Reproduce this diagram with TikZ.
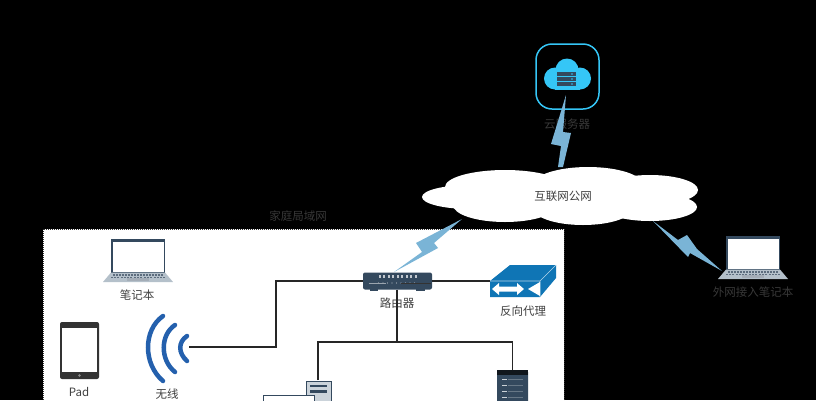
\documentclass[tikz,border=0pt]{standalone}
\usepackage{fontspec}
\setmainfont{Noto Sans CJK SC}
\usetikzlibrary{
	arrows.meta,
	calc,
	positioning,
}
\definecolor{boltblue}{HTML}{7AB4D6}
\definecolor{cloudcyan}{HTML}{35C6F6}
\definecolor{slatedark}{HTML}{34495E}
\definecolor{wifiblue}{HTML}{2460AD}
\definecolor{proxyblue}{HTML}{0F75B5}
\definecolor{basegrey}{HTML}{B4C0CA}
\tikzset{
	wire/.style={line width=1.7pt, black!85},
	label/.style={font=\fontsize{11.5}{13}\selectfont, text=black!75, inner sep=0pt},
	darklabel/.style={font=\fontsize{11.5}{13}\selectfont, text=black!78!white, inner sep=0pt},
	bolt/.style={fill=boltblue},
	arcline/.style={draw=wifiblue, line width=4.5pt, line cap=round},
	laptop/.pic={
		% origin is the middle of the screen bottom
		\fill[slatedark] (-27,-33.5) rectangle (27,0);
		\fill[white] (-25.5,-31) rectangle (25.5,-1);
		\fill[basegrey] (-27,0) -- (27,0) -- (35,9.5) -- (-35,9.5) -- cycle;
		\foreach \i in {-24,-21,...,24} {
			\fill[slatedark!80] (\i-1,1) rectangle (\i+1,3);
			\fill[slatedark!80] (\i*1.1-1,4) rectangle (\i*1.1+1,5.5);
		}
		\fill[slatedark!45] (-11,5.5) rectangle (11,8);
	},
}
\begin{document}
\begin{tikzpicture}[x=1pt, y=-1pt]
	\fill[black] (0,0) rectangle (816,400);
	\useasboundingbox (0,0) rectangle (816,400);
	\clip (0,0) rectangle (816,400);

	% local network box
	\node[darklabel] (lanlabel) at (298,216) {家庭局域网};
	\draw[fill=white, draw=black!80, densely dotted, line width=1pt] (43,229) rectangle (564,420);

	% cloud server
	\draw[cloudcyan, line width=1.5pt, rounded corners=16pt] (536,44) rectangle (599,109);
	\fill[cloudcyan] (567,70) circle (11.5);
	\fill[cloudcyan] (555,78.5) circle (11);
	\fill[cloudcyan] (580,78.5) circle (11);
	\fill[cloudcyan] (555,75) rectangle (580,89.5);
	\foreach \y in {74,79,84} {
		\fill[slatedark] (557,\y-2) rectangle (576,\y+2);
		\fill[cloudcyan] (572,\y) circle (0.9);
	}
	\node[darklabel] (serverlabel) at (567,124) {云服务器};

	% internet cloud
	\fill[white] (470,197) ellipse (48 and 12);
	\fill[white] (505,187) ellipse (60 and 17);
	\fill[white] (588,185) ellipse (55 and 18);
	\fill[white] (650,190) ellipse (48 and 15);
	\fill[white] (650,207) ellipse (47 and 14);
	\fill[white] (583,208) ellipse (50 and 17);
	\fill[white] (505,205) ellipse (52 and 17);
	\node[label] (inet) at (563,196) {互联网公网};

	% lightning
	\fill[bolt] (566,95) -- (551,144) -- (561,146) -- (558,167) -- (563,167) -- (571,133) -- (563,132) -- cycle;
	\fill[bolt] (462,219) -- (416,243) -- (422,252) -- (394,272) -- (438,248) -- (434,243) -- cycle;
	\fill[bolt] (653,221) -- (678,240) -- (687,235) -- (697,249) -- (722,271) -- (690,253) -- (688,257) -- cycle;

	% laptops
	\pic at (138,272.5) {laptop};
	\node[label] (notebook) at (137,295) {笔记本};
	\pic at (753,269.5) {laptop};
	\node[darklabel] (remote) at (753,292) {外网接入笔记本};

	% pad
	\fill[black!80] (60,322) [rounded corners=2pt] rectangle (99,379);
	\fill[white] (62,328) rectangle (97,372);
	\fill[black!45] (79.5,375.5) circle (1.3);
	\node[label] (pad) at (79,392) {Pad};

	% wireless
	\draw[arcline] (163,316) .. controls (143,330) and (143,364) .. (163,381);
	\draw[arcline] (175,325) .. controls (160,335) and (160,360) .. (175,372);
	\draw[arcline] (187,336) .. controls (178,342) and (178,353) .. (187,361);
	\coordinate (wifi) at (189,347);
	\node[label] (wifilabel) at (167,394) {无线};

	% router
	\node[fill=slatedark, rounded corners=2pt, minimum width=69pt, minimum height=17pt, inner sep=0pt] (router) at (397.5,281) {};
	\foreach \x in {-19,-14.5,...,19} {
		\fill[white!70!slatedark] ($(router)+(\x,-6.5)$) rectangle ++(2,3);
		\fill[white!60!slatedark] ($(router)+(\x,2)$) circle (0.7);
	}
	\draw[black!80, line width=1pt] ($(router)+(3,2)$) -- ($(router)+(33,2)$);
	\draw[white!50!slatedark, line width=0.7pt] ($(router)+(-29,2)$) -- ($(router)+(-12,2)$);
	\fill[slatedark] (370,289) rectangle (378,291);
	\fill[slatedark] (416,289) rectangle (425,291);
	\node[label] (routerlabel) at (397,303) {路由器};

	% reverse proxy
	\coordinate (proxy) at (490,281);
	\fill[proxyblue] (490,281) -- (510,265) -- (556,265) -- (556,278) -- (540,297) -- (490,297) -- cycle;
	\draw[white!70!proxyblue, line width=0.6pt] (490,281) -- (540,281) -- (556,265) (540,281) -- (540,297);
	\fill[white] (492,289) -- (499,283) -- (499,286.5) -- (517,286.5) -- (517,283) -- (524,289) -- (517,295) -- (517,291.5) -- (499,291.5) -- (499,295) -- cycle;
	\fill[white] (528,289) -- (540,282) -- (540,296) -- cycle;
	\node[label] (proxylabel) at (523,311) {反向代理};

	% web server
	\coordinate (pc) at (318,380);
	\draw[slatedark, fill=basegrey!70, line width=1pt] (306,381) rectangle (331,420);
	\fill[slatedark] (310,385) rectangle (327,387);
	\fill[slatedark] (310,390) rectangle (327,393);
	\draw[slatedark, fill=white, line width=1pt] (263,395) rectangle (314,420);

	% rack server
	\node[fill=slatedark, rounded corners=2pt, minimum width=31pt, minimum height=50pt, inner sep=0pt, anchor=north] (rack) at (512.5,370) {};
	\fill[black!70!slatedark] (497,370) rectangle (528,375);
	\foreach \y in {379,385,391,397} {
		\fill[white!75!slatedark] (502,\y) rectangle (507,\y+1.2);
		\draw[white!25!slatedark, line width=0.5pt] (508,\y+.6) -- (523,\y+.6);
	}

	% wires
	\coordinate (hub) at (397,342);
	\draw[wire] (wifi) -- (276,347) |- (router.west);
	\draw[wire] (router.east) -- (proxy);
	\draw[wire] (router.south -| hub) -- (hub);
	\draw[wire] (pc) |- (hub) -| (rack.north);
\end{tikzpicture}
\end{document}
